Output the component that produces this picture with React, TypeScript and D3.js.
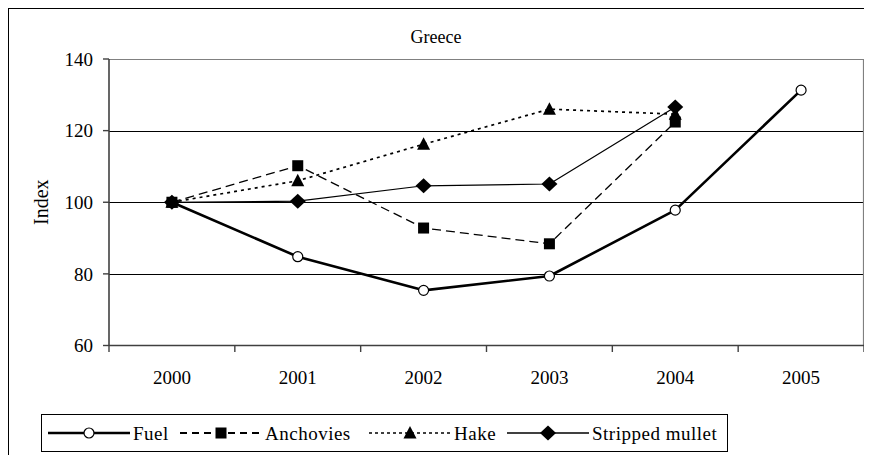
import React from "react";
import * as d3 from "d3";

const years = ["2000", "2001", "2002", "2003", "2004", "2005"];
const fuel = [100, 84.8, 75.4, 79.4, 97.8, 131.3];
const anchovies = [100, 110.2, 92.8, 88.4, 122.4];
const hake = [100, 106.0, 116.2, 126.0, 124.6];
const mullet = [100, 100.3, 104.6, 105.1, 126.6];
const yTicks = [60, 80, 100, 120, 140];
const seriesNames = ["Fuel", "Anchovies", "Hake", "Stripped mullet"];

const FONT = "Liberation Serif, Times New Roman, serif";

const M = { left: 109, right: 864, top: 59, bottom: 345.5 };

function Marker({ type, x, y }: { type: string; x: number; y: number }) {
  if (type === "circle")
    return <circle cx={x} cy={y} r={5} fill="#fff" stroke="#000" strokeWidth={1.2} />;
  if (type === "square")
    return <rect x={x - 5.5} y={y - 5.5} width={11} height={11} fill="#000" />;
  if (type === "triangle")
    return <path d={`M${x},${y - 7} L${x + 6.5},${y + 5.5} L${x - 6.5},${y + 5.5} Z`} fill="#000" />;
  return <path d={`M${x},${y - 7.5} L${x + 8},${y} L${x},${y + 7.5} L${x - 8},${y} Z`} fill="#000" />;
}

const txt = (size: number, extra: React.CSSProperties = {}): React.CSSProperties => ({
  fontFamily: FONT,
  fontSize: size,
  fill: "#000",
  ...extra,
});

export default function App() {
  const x = d3.scaleBand<string>().domain(years).range([M.left, M.right]).paddingInner(0).paddingOuter(0);
  const y = d3.scaleLinear().domain([60, 140]).range([M.bottom, M.top]);
  const cx = (i: number) => (x(years[i]) as number) + x.bandwidth() / 2;

  const series = [
    { name: seriesNames[0], data: fuel, width: 2.6, dash: undefined as string | undefined, marker: "circle", legendDash: undefined as string | undefined, legendWidth: 2.6 },
    { name: seriesNames[1], data: anchovies, width: 1.3, dash: "9,5", marker: "square", legendDash: "7,5", legendWidth: 1.8 },
    { name: seriesNames[2], data: hake, width: 1.7, dash: "3,4", marker: "triangle", legendDash: "3,3", legendWidth: 1.5 },
    { name: seriesNames[3], data: mullet, width: 1.2, dash: undefined, marker: "diamond", legendDash: undefined, legendWidth: 1.3 },
  ];

  const line = d3
    .line<number>()
    .x((_, i) => cx(i))
    .y((d) => y(d));

  const legendItems = [48, 180, 369, 507];
  const legendLineLen = 82;
  const legendY = 433;

  const bounds = years.map((yr) => x(yr) as number).concat([M.right]);

  return (
    <svg width={864} height={447} style={{ display: "block" }}>
      <g transform="translate(-8,-8)">
        <rect x={8.5} y={8.5} width={900} height={500} fill="#fff" stroke="#000" strokeWidth={1} />
        {yTicks.slice(1, -1).map((t) => (
          <line key={t} x1={M.left} x2={M.right} y1={Math.round(y(t)) + 0.5} y2={Math.round(y(t)) + 0.5} stroke="#000" strokeWidth={1} />
        ))}
        <path d={`M${M.left},${M.top + 0.5} H${M.right - 0.5} V${M.bottom}`} fill="none" stroke="#808080" strokeWidth={1.2} />
        <line x1={M.left} x2={M.left} y1={M.top} y2={M.bottom} stroke="#404040" strokeWidth={1.6} />
        <line x1={M.left} x2={M.right} y1={M.bottom} y2={M.bottom} stroke="#404040" strokeWidth={1.6} />
        {yTicks.map((t) => (
          <g key={t}>
            <line x1={M.left - 6} x2={M.left} y1={y(t)} y2={y(t)} stroke="#404040" strokeWidth={1.4} />
            <text x={93} y={y(t)} dy="0.35em" textAnchor="end" style={txt(19)}>
              {t}
            </text>
          </g>
        ))}
        {bounds.map((b, i) => (
          <line key={i} x1={b} x2={b} y1={M.bottom} y2={M.bottom + 6.5} stroke="#404040" strokeWidth={1.4} />
        ))}
        {years.map((yr, i) => (
          <text key={yr} x={cx(i)} y={384} textAnchor="middle" style={txt(19)}>
            {yr}
          </text>
        ))}
        <text x={436} y={43} textAnchor="middle" style={txt(18)}>
          Greece
        </text>
        <text transform={`translate(48,${(M.top + M.bottom) / 2}) rotate(-90)`} textAnchor="middle" style={txt(20)}>
          Index
        </text>
        {series.map((s) => (
          <g key={s.name}>
            <path d={line(s.data) as string} fill="none" stroke="#000" strokeWidth={s.width} strokeDasharray={s.dash} strokeLinejoin="round" />
            {s.data.map((v, i) => (
              <Marker key={i} type={s.marker} x={cx(i)} y={y(v)} />
            ))}
          </g>
        ))}
        <rect x={41.5} y={414.5} width={686} height={37} fill="#fff" stroke="#000" strokeWidth={1} />
        {series.map((s, k) => {
          const lx = legendItems[k];
          return (
            <g key={s.name}>
              <line x1={lx} x2={lx + legendLineLen} y1={legendY} y2={legendY} stroke="#000" strokeWidth={s.legendWidth} strokeDasharray={s.legendDash} />
              <Marker type={s.marker} x={lx + legendLineLen / 2} y={legendY} />
              <text x={lx + legendLineLen + 3} y={legendY} dy="0.35em" style={txt(19, { letterSpacing: 0.5 })}>
                {s.name}
              </text>
            </g>
          );
        })}
      </g>
    </svg>
  );
}
